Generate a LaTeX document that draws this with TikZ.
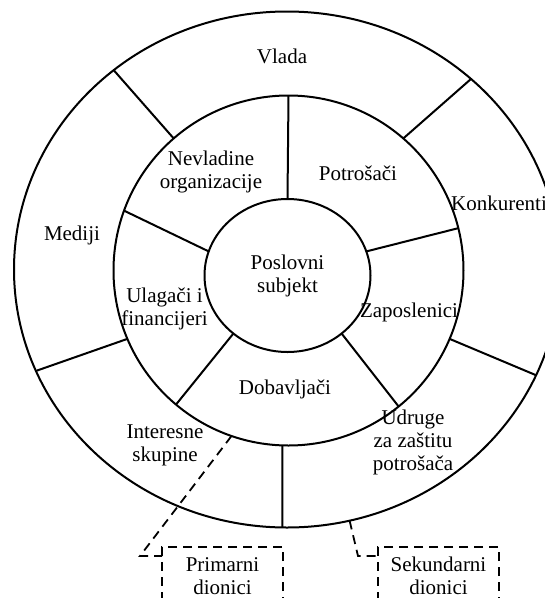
\documentclass[tikz,border=0pt]{standalone}
\usepackage{fontspec}
\setmainfont{Liberation Serif}
\usetikzlibrary{shapes.geometric, positioning}
\tikzset{
	ring/.style={draw, line width=2pt, inner sep=0pt, outer sep=0pt},
	spoke/.style={line width=2pt},
	veza/.style={line width=1.8pt, dash pattern=on 9pt off 6pt},
	dionik/.style={draw, line width=1.8pt, dash pattern=on 9pt off 6pt, minimum width=121pt, minimum height=58pt, align=center, inner sep=0pt, outer sep=0pt}
}

\begin{document}
\begin{tikzpicture}[
	x=1pt, y=-1pt,
	font=\fontsize{21}{23}\selectfont,
	t/.style={align=center, inner sep=0pt}]
	\useasboundingbox (0,0) rectangle (545,598);
	\clip (0,0) rectangle (545,598);
	\node[ring, ellipse, minimum width=546pt, minimum height=516pt] (outer) at (287,269.5) {};
	\node[ring, circle, minimum size=350pt] (mid) at (288.5,270.5) {};
	\node[ring, ellipse, minimum width=166pt, minimum height=153pt, align=center] (core) at (287.5,275.5) {Poslovni\\subjekt};
	\draw[spoke] (core.90) -- (mid.90);
	\draw[spoke] (core.163) -- (mid.160);
	\draw[spoke] (core.17) -- (mid.14);
	\draw[spoke] (core.227) -- (mid.230);
	\draw[spoke] (core.313) -- (mid.309);
	\draw[spoke] (mid.131) -- (outer.131);
	\draw[spoke] (mid.49) -- (outer.46);
	\draw[spoke] (mid.203) -- (outer.202);
	\draw[spoke] (mid.337) -- (outer.337);
	\draw[spoke] (mid.268.5) -- (outer.269.3);
	\node[t] (vlada) at (282,56) {Vlada};
	\node[t] (mediji) at (72,235) {Mediji};
	\node[t, anchor=west] (konk) at (451,203) {Konkurenti};
	\node[t] (nvo) at (211,172) {Nevladine\\organizacije};
	\node[t] (potr) at (358,173) {Potrošači};
	\node[t] (ulag) at (164.5,309) {Ulagači i\\financijeri};
	\node[t] (zapos) at (409,312) {Zaposlenici};
	\node[t] (dobav) at (285,389) {Dobavljači};
	\node[t] (inter) at (165,445) {Interesne\\skupine};
	\node[t] (udruge) at (413,442) {Udruge\\za zaštitu\\potrošača};
	\node[dionik] (prim) at (222.5,576) {Primarni\\dionici};
	\node[dionik] (sek) at (438.5,576) {Sekundarni\\dionici};
	\coordinate (pkut) at (140,556);
	\coordinate (skut) at (358,556);
	\draw[veza] (mid.251) -- (pkut) -- (pkut -| prim.west);
	\draw[veza] (outer.284) -- (skut) -- (skut -| sek.west);
\end{tikzpicture}
\end{document}
